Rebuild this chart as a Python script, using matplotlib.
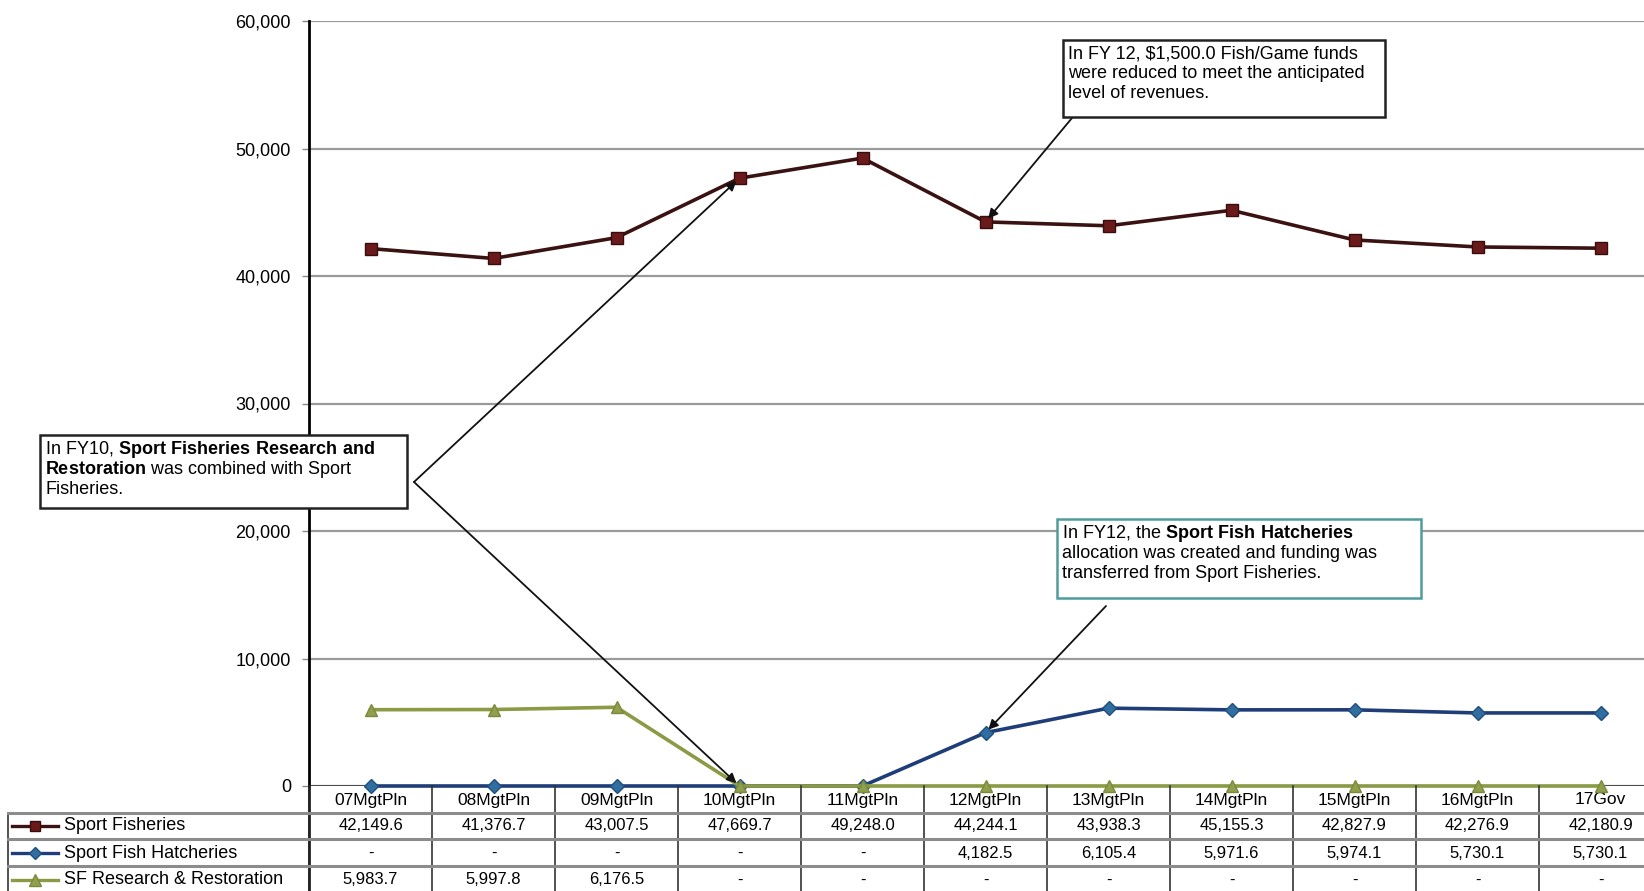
import matplotlib
matplotlib.use("Agg")
import matplotlib.pyplot as plt
from matplotlib.lines import Line2D
from matplotlib.patches import Rectangle
from matplotlib.transforms import blended_transform_factory

plt.rcParams['font.family'] = ['Liberation Sans', 'DejaVu Sans']
plt.rcParams['mathtext.fontset'] = 'custom'
plt.rcParams['mathtext.rm'] = 'Liberation Sans'
plt.rcParams['mathtext.bf'] = 'Liberation Sans:bold'

# data
categories = ["07MgtPln", "08MgtPln", "09MgtPln", "10MgtPln", "11MgtPln", "12MgtPln",
              "13MgtPln", "14MgtPln", "15MgtPln", "16MgtPln", "17Gov"]
sport_fisheries = [42149.6, 41376.7, 43007.5, 47669.7, 49248.0, 44244.1,
                   43938.3, 45155.3, 42827.9, 42276.9, 42180.9]
hatcheries = [None, None, None, None, None, 4182.5, 6105.4, 5971.6, 5974.1, 5730.1, 5730.1]
sf_research = [5983.7, 5997.8, 6176.5, None, None, None, None, None, None, None, None]
series_names = ["Sport Fisheries", "Sport Fish Hatcheries", "SF Research & Restoration"]
yticks = [0, 10000, 20000, 30000, 40000, 50000, 60000]

W, H = 1644, 891
fig = plt.figure(figsize=(W / 100, H / 100), dpi=100)
fy = lambda y: 1 - y / H
fx = lambda x: x / W

ax_left, ax_top, ax_bot = 309, 21, 786
col_w = 123
ax = fig.add_axes([fx(ax_left), fy(ax_bot), 1 - fx(ax_left), (ax_bot - ax_top) / H])
ax.set_xlim(-0.5, -0.5 + (W - ax_left) / col_w)
ax.set_ylim(0, 60000)

colors = ["#3a1212", "#1f3d78", "#8a9a45"]
mfc = ["#6a1a1a", "#2f6e9e", "#8f9f4e"]
mec = ["#3a0c0c", "#1f4f80", "#7a8a3a"]
markers = ["s", "D", "^"]
msizes = [8, 7, 9]
xs = list(range(len(categories)))

def zero_fill(vals):
    return [0 if v is None else v for v in vals]

all_series = [sport_fisheries, hatcheries, sf_research]
for k in [2, 1, 0]:
    ax.plot(xs, zero_fill(all_series[k]), color=colors[k], lw=2.6, marker=markers[k],
            ms=msizes[k], mfc=mfc[k], mec=mec[k], clip_on=False, zorder=3 + k)

ax.set_yticks(yticks)
ax.set_yticklabels(["{:,}".format(t) for t in yticks], fontsize=13)
ax.set_xticks([])
ax.grid(axis='y', color='#9a9a9a', lw=1.6)
ax.tick_params(axis='y', length=5, width=1, color='#888888', pad=8)
for s in ['top', 'right', 'bottom']:
    ax.spines[s].set_visible(False)
ax.spines['left'].set_linewidth(2)
ax.axhline(0, color='#333333', lw=1.8, zorder=2)

# data table under the axis
tr = blended_transform_factory(ax.transData, fig.transFigure)
row_lines = [813, 839, 866]
row_centers = [800, 826, 853, 880]
for i, c in enumerate(categories):
    ax.text(i, fy(row_centers[0]), c, transform=tr, ha='center', va='center', fontsize=12.5, clip_on=False)
    for r, vals in enumerate(all_series):
        v = vals[i]
        txt = "-" if v is None else "{:,.1f}".format(v)
        ax.text(i, fy(row_centers[r + 1]), txt, transform=tr, ha='center', va='center',
                fontsize=12, clip_on=False)
for i in range(len(categories) + 1):
    fig.add_artist(Line2D([fx(ax_left + col_w * i)] * 2, [fy(ax_bot), 0], color='#333333', lw=1.2))
fig.add_artist(Line2D([fx(8)] * 2, [fy(813), 0], color='#333333', lw=1.2))
fig.add_artist(Line2D([fx(ax_left)] * 2, [fy(ax_bot), 0], color='#222222', lw=2))
for y in row_lines:
    fig.add_artist(Line2D([fx(8), 1], [fy(y), fy(y)], color='#8c8c8c', lw=2.2))
for r, name in enumerate(series_names):
    y = fy(row_centers[r + 1])
    fig.add_artist(Line2D([fx(12), fx(58)], [y, y], color=colors[r], lw=2.4))
    fig.add_artist(Line2D([fx(35)], [y], color=colors[r], marker=markers[r], ms=msizes[r] - 1,
                          mfc=mfc[r], mec=mec[r]))
    fig.text(fx(64), y, name, ha='left', va='center', fontsize=13)

# annotation boxes
def box(x0, y0, x1, y1, ec, lines):
    fig.add_artist(Rectangle((fx(x0), fy(y1)), fx(x1) - fx(x0), (y1 - y0) / H,
                             transform=fig.transFigure, fc='white', ec=ec, lw=1.8, zorder=6))
    for j, ln in enumerate(lines):
        fig.text(fx(x0 + 5), fy(y0 + 14 + j * 20), ln, ha='left', va='center',
                 fontsize=13, zorder=7)

box(40, 435, 407, 508, '#222222',
    [r"In FY10, $\bf{Sport\ Fisheries\ Research\ and}$",
     r"$\bf{Restoration}$ was combined with Sport",
     "Fisheries."])
box(1063, 40, 1385, 117, '#222222',
    [r"In FY 12, \$1,500.0 Fish/Game funds",
     "were reduced to meet the anticipated",
     "level of revenues."])
box(1057, 519, 1421, 598, '#4f9c9c',
    [r"In FY12, the $\bf{Sport\ Fish\ Hatcheries}$",
     "allocation was created and funding was",
     "transferred from Sport Fisheries."])

arrow = dict(arrowstyle='-|>', color='#111111', lw=1.3, mutation_scale=14, shrinkA=0, shrinkB=3)
for target in [(3, sport_fisheries[3]), (3, 0)]:
    ax.annotate("", xy=target, xytext=(414, H - 482), textcoords='figure pixels',
                arrowprops=arrow, annotation_clip=False, zorder=8)
ax.annotate("", xy=(5, sport_fisheries[5]), xytext=(1072, H - 118), textcoords='figure pixels',
            arrowprops=arrow, annotation_clip=False)
ax.annotate("", xy=(5, hatcheries[5]), xytext=(1106, H - 606), textcoords='figure pixels',
            arrowprops=arrow, annotation_clip=False)

fig.savefig("out.png", dpi=100)
